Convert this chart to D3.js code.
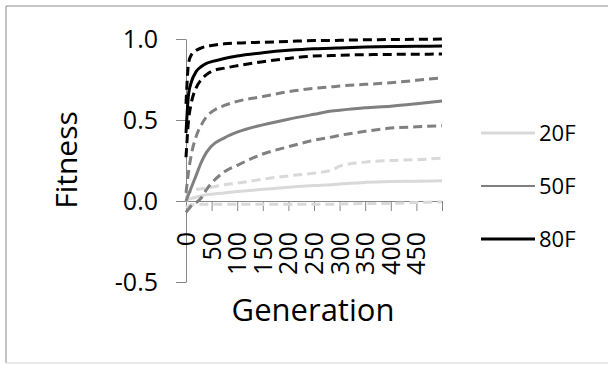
<!DOCTYPE html>
<html lang="en">
<head>
<meta charset="utf-8">
<title>Fitness by generation</title>
<script src="https://d3js.org/d3.v7.min.js"></script>
<style>
  body { margin: 0; background: #fff; }
  text { font-family: 'Open Sans', sans-serif; fill: #000; }
</style>
</head>
<body>
<svg id="chart" width="608" height="365"></svg>
<script>
const generations = [0, 5, 10, 20, 30, 40, 50, 75, 100, 150, 200, 250, 285, 300, 350, 400, 450, 500];

// 20F
const f20Mean  = [0.0, 0.01, 0.015, 0.025, 0.032, 0.038, 0.042, 0.05, 0.058, 0.072, 0.085, 0.095, 0.1, 0.105, 0.115, 0.12, 0.122, 0.125];
const f20Upper = [0.02, 0.05, 0.06, 0.07, 0.075, 0.08, 0.085, 0.1, 0.11, 0.135, 0.155, 0.172, 0.19, 0.215, 0.24, 0.25, 0.255, 0.265];
const f20Lower = [-0.04, -0.03, -0.025, -0.02, -0.02, -0.02, -0.02, -0.02, -0.02, -0.02, -0.02, -0.02, -0.02, -0.018, -0.016, -0.015, -0.01, -0.005];
// 50F
const f50Mean  = [0.0, 0.04, 0.08, 0.16, 0.24, 0.3, 0.34, 0.39, 0.425, 0.47, 0.505, 0.535, 0.555, 0.56, 0.575, 0.585, 0.6, 0.617];
const f50Upper = [0.05, 0.18, 0.28, 0.4, 0.47, 0.52, 0.55, 0.59, 0.615, 0.645, 0.675, 0.695, 0.705, 0.71, 0.72, 0.73, 0.745, 0.76];
const f50Lower = [-0.07, -0.05, -0.03, -0.01, 0.02, 0.07, 0.11, 0.18, 0.22, 0.29, 0.335, 0.375, 0.395, 0.405, 0.43, 0.45, 0.458, 0.465];
// 80F
const f80Mean  = [0.42, 0.66, 0.73, 0.8, 0.83, 0.85, 0.86, 0.88, 0.895, 0.915, 0.93, 0.94, 0.943, 0.945, 0.95, 0.953, 0.955, 0.957];
const f80Upper = [0.6, 0.85, 0.9, 0.93, 0.945, 0.955, 0.96, 0.97, 0.975, 0.98, 0.985, 0.99, 0.99, 0.992, 0.995, 0.997, 0.998, 1.0];
const f80Lower = [0.27, 0.5, 0.6, 0.7, 0.75, 0.78, 0.8, 0.82, 0.835, 0.86, 0.88, 0.895, 0.898, 0.9, 0.903, 0.905, 0.906, 0.907];

const legendNames = ["20F", "50F", "80F"];
const seriesColors = ["#d9d9d9", "#808080", "#000000"];
const xTickValues = [0, 50, 100, 150, 200, 250, 300, 350, 400, 450];
const yTickValues = [-0.5, 0, 0.5, 1.0];

const groups = [
  { name: "20F", color: seriesColors[0], mean: f20Mean, upper: f20Upper, lower: f20Lower },
  { name: "50F", color: seriesColors[1], mean: f50Mean, upper: f50Upper, lower: f50Lower },
  { name: "80F", color: seriesColors[2], mean: f80Mean, upper: f80Upper, lower: f80Lower }
];

const svg = d3.select("#chart");

// outer frame
svg.append("line").attr("x1", 6).attr("y1", 6).attr("x2", 608).attr("y2", 6).attr("stroke", "#8c8c8c");
svg.append("line").attr("x1", 6).attr("y1", 6).attr("x2", 6).attr("y2", 363).attr("stroke", "#8c8c8c");
svg.append("line").attr("x1", 6).attr("y1", 363).attr("x2", 608).attr("y2", 363).attr("stroke", "#d4d4d4");

const x = d3.scaleLinear().domain([0, 500]).range([186, 442]);
const y = d3.scaleLinear().domain([-0.5, 1.0]).range([282, 39]);

// y axis (plain hyphen for the minus sign, like the original)
const yAxis = svg.append("g").attr("transform", "translate(186,0)")
  .call(d3.axisLeft(y).tickValues(yTickValues)
    .tickFormat(d => d.toFixed(1))
    .tickSize(10).tickSizeOuter(0));
yAxis.select(".domain").attr("stroke", "#868686");
yAxis.selectAll(".tick line").attr("stroke", "#868686");
yAxis.selectAll(".tick text")
  .attr("x", -28).attr("dy", "0.35em")
  .style("font-size", "25px").style("font-family", "'Open Sans', sans-serif");

// x axis crossing at 0
const xAxis = svg.append("g").attr("transform", `translate(0,${y(0)})`)
  .call(d3.axisBottom(x).tickValues(d3.range(50, 501, 50)).tickSize(10).tickSizeOuter(0).tickFormat(""));
xAxis.select(".domain").attr("stroke", "#868686");
xAxis.selectAll(".tick line").attr("stroke", "#868686");

// rotated category labels
svg.append("g").selectAll("text").data(xTickValues).join("text")
  .attr("transform", d => `translate(${x(d)},232) rotate(-90)`)
  .attr("text-anchor", "end")
  .attr("dy", "0.36em")
  .style("font-size", "25px")
  .text(d => d);

// axis titles
svg.append("text")
  .attr("transform", "translate(77,160) rotate(-90)")
  .attr("text-anchor", "middle")
  .style("font-size", "30px")
  .text("Fitness");

svg.append("text")
  .attr("x", 313).attr("y", 321)
  .attr("text-anchor", "middle")
  .style("font-size", "31px")
  .text("Generation");

// curves
const line = d3.line()
  .x((d, i) => x(generations[i]))
  .y(d => y(d))
  .curve(d3.curveMonotoneX);

const plot = svg.append("g");
groups.forEach(g => {
  [g.upper, g.lower].forEach(vals => {
    plot.append("path").datum(vals)
      .attr("fill", "none")
      .attr("stroke", g.color)
      .attr("stroke-width", 3)
      .attr("stroke-dasharray", "9,5")
      .attr("d", line);
  });
  plot.append("path").datum(g.mean)
    .attr("fill", "none")
    .attr("stroke", g.color)
    .attr("stroke-width", 3)
    .attr("d", line);
});

// legend
const legend = svg.append("g").selectAll("g").data(legendNames).join("g")
  .attr("transform", (d, i) => `translate(481,${133 + i * 53})`);
legend.append("line")
  .attr("x1", 0).attr("x2", 54)
  .attr("stroke", (d, i) => seriesColors[i])
  .attr("stroke-width", (d, i) => i === 1 ? 2 : 3);
legend.append("text")
  .attr("x", 58).attr("dy", "0.36em")
  .style("font-size", "22px")
  .text(d => d);
</script>
</body>
</html>
